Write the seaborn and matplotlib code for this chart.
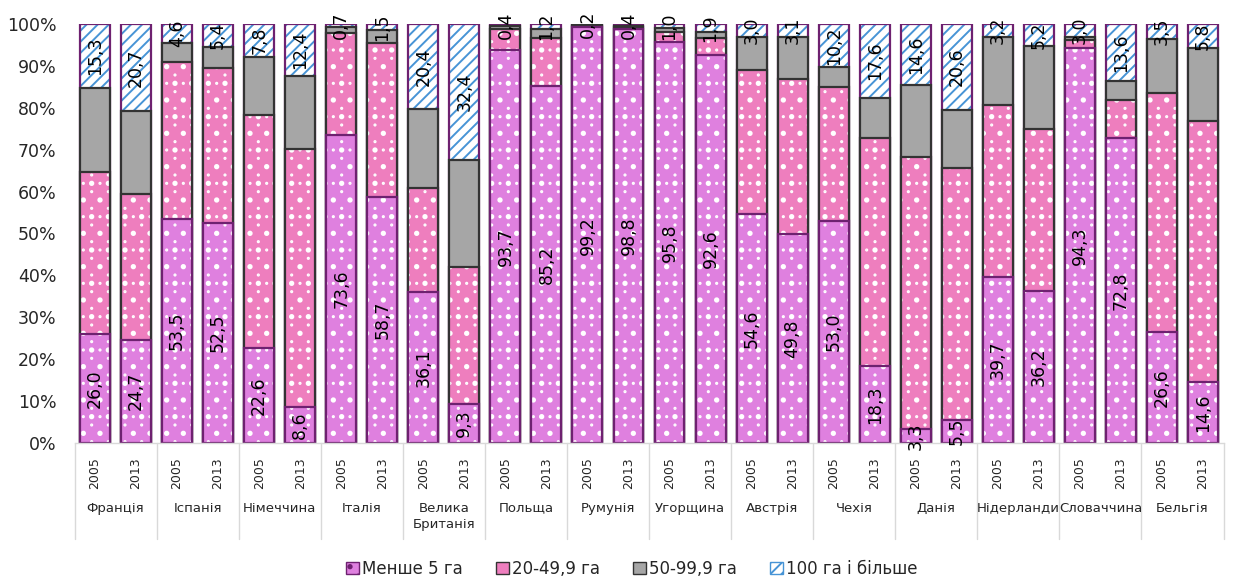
import numpy as np
import pandas as pd
import matplotlib
matplotlib.use("Agg")
import matplotlib.pyplot as plt
import matplotlib.transforms as mtransforms
import matplotlib.hatch as mhatch
from matplotlib.path import Path
from matplotlib.patches import Patch
import seaborn as sns

countries = ["Франція", "Іспанія", "Німеччина", "Італія", "Велика\nБританія", "Польща",
             "Румунія", "Угорщина", "Австрія", "Чехія", "Данія", "Нідерланди",
             "Словаччина", "Бельгія"]
years = ["2005", "2013"]
series_names = ["Менше 5 га", "20-49,9 га", "50-99,9 га", "100 га і більше"]

less5 = [26.0, 24.7, 53.5, 52.5, 22.6, 8.6, 73.6, 58.7, 36.1, 9.3, 93.7, 85.2, 99.2, 98.8,
         95.8, 92.6, 54.6, 49.8, 53.0, 18.3, 3.3, 5.5, 39.7, 36.2, 94.3, 72.8, 26.6, 14.6]
ha20_49 = [38.7, 34.7, 37.4, 37.0, 55.7, 61.6, 24.3, 36.8, 24.8, 32.7, 5.1, 11.5, 0.4, 0.5,
           2.2, 4.0, 34.4, 37.1, 32.0, 54.5, 65.0, 60.1, 41.0, 38.7, 1.9, 9.1, 56.9, 62.2]
ha50_99 = [20.0, 19.9, 4.5, 5.1, 13.9, 17.4, 1.4, 3.0, 18.7, 25.6, 0.8, 2.1, 0.2, 0.3,
           1.0, 1.5, 8.0, 10.0, 4.8, 9.6, 17.1, 13.8, 16.1, 19.9, 0.8, 4.5, 13.0, 17.4]
ha100 = [15.3, 20.7, 4.6, 5.4, 7.8, 12.4, 0.7, 1.5, 20.4, 32.4, 0.4, 1.2, 0.2, 0.4,
         1.0, 1.9, 3.0, 3.1, 10.2, 17.6, 14.6, 20.6, 3.2, 5.2, 3.0, 13.6, 3.5, 5.8]


class StaggerDots(mhatch.HatchPatternBase):
    """Sparse staggered dot pattern used for the '.' hatch."""
    def __init__(self, hatch, density):
        k = hatch.count(".")
        circ = Path.unit_circle()
        self.sv = circ.vertices * 0.006
        self.sc = circ.codes
        pts = []
        if k:
            rows = 12 * k
            cols = 6 * k
            for r in range(rows + 1):
                y = r / rows
                if r % 2 == 0:
                    xs = np.arange(cols + 1) / cols
                else:
                    xs = np.arange(cols) / cols + 0.5 / cols
                pts += [(x, y) for x in xs]
        self.pts = pts
        self.num_vertices = len(pts) * len(self.sv)

    def set_vertices_and_codes(self, vertices, codes):
        nv = len(self.sv)
        for i, (x, y) in enumerate(self.pts):
            vertices[i * nv:(i + 1) * nv] = self.sv + (x, y)
            codes[i * nv:(i + 1) * nv] = self.sc


mhatch._hatch_types = [StaggerDots if t is mhatch.SmallCircles else t
                       for t in mhatch._hatch_types]

sns.set_theme(style="white")
plt.rcParams["font.family"] = ["DejaVu Sans"]
plt.rcParams["hatch.linewidth"] = 1.4

n = len(less5)
pos = list(range(n))
df = pd.DataFrame({"pos": pos, "less5": less5, "ha20_49": ha20_49,
                   "ha50_99": ha50_99, "ha100": ha100})
df["c1"] = df["less5"]
df["c2"] = df["c1"] + df["ha20_49"]
df["c3"] = df["c2"] + df["ha50_99"]
df["c4"] = df["c3"] + df["ha100"]

fig = plt.figure(figsize=(12.37, 5.81), dpi=100)
ax = fig.add_axes([74.5 / 1237, 138 / 581, 1149 / 1237, 419 / 581])

VIOLET = "#DF80DF"
PINK = "#EE7EBE"
GRAY = "#A6A6A6"
PURPLE = "#6E2170"
DARK = "#333333"
BLUE = "#4794D6"

layers = [
    ("c4", "white", "///", BLUE, PURPLE),
    ("c3", GRAY, None, GRAY, DARK),
    ("c2", PINK, ".", "white", DARK),
    ("c1", VIOLET, ".", "white", PURPLE),
]
W = 0.73
for col, face, hatch, hcol, edge in layers:
    before = len(ax.patches)
    sns.barplot(data=df, x="pos", y=col, color=face, saturation=1, width=W,
                errorbar=None, linewidth=0, ax=ax)
    for p in ax.patches[before:]:
        p.set_facecolor(face)
        p.set_edgecolor(hcol)
        p.set_linewidth(0)
        if hatch:
            p.set_hatch(hatch)
    sns.barplot(data=df, x="pos", y=col, color=edge, fill=False, width=W,
                errorbar=None, linewidth=1.6, ax=ax)


def fmt(v):
    return f"{v:.1f}".replace(".", ",")


for i in range(n):
    ax.text(i, df["c1"][i] / 2, fmt(less5[i]), rotation=90, ha="center", va="center",
            fontsize=12.5, color="black")
    ax.text(i, df["c3"][i] + ha100[i] / 2, fmt(ha100[i]), rotation=90, ha="center",
            va="center", fontsize=12.5, color="black")

ax.set_xlim(-0.5, n - 0.5)
ax.set_ylim(0, 100)
ax.set_yticks(np.arange(0, 101, 10))
ax.set_yticklabels([f"{v}%" for v in range(0, 101, 10)], fontsize=12.5)
ax.set_xticks(pos)
ax.set_xticklabels([years[i % 2] for i in pos], rotation=90, fontsize=9)
ax.tick_params(axis="x", length=0, pad=10)
ax.tick_params(axis="y", length=0, pad=13)
ax.set_xlabel("")
ax.set_ylabel("")
for s in ["top", "right", "left"]:
    ax.spines[s].set_visible(False)
ax.spines["bottom"].set_color("#D9D9D9")
ax.spines["bottom"].set_linewidth(1)

trans = mtransforms.blended_transform_factory(ax.transData, ax.transAxes)
for k in range(len(countries) + 1):
    xb = 2 * k - 0.5
    ax.plot([xb, xb], [0, -0.23], color="#D9D9D9", lw=1, transform=trans, clip_on=False)
for k, c in enumerate(countries):
    ax.text(2 * k + 0.5, -0.14, c, ha="center", va="top", fontsize=9.5,
            transform=trans, linespacing=1.3)

handles = [
    Patch(facecolor=VIOLET, edgecolor=PURPLE, hatch="."),
    Patch(facecolor=PINK, edgecolor=DARK),
    Patch(facecolor=GRAY, edgecolor=DARK),
    Patch(facecolor="white", edgecolor=BLUE, hatch="///"),
]
fig.legend(handles, series_names, loc="center", bbox_to_anchor=(632 / 1237, 12 / 581),
           ncol=4, frameon=False, fontsize=12, handlelength=0.75, handleheight=0.75,
           handletextpad=0.2, columnspacing=2.0)

fig.savefig("out.png", dpi=100)
